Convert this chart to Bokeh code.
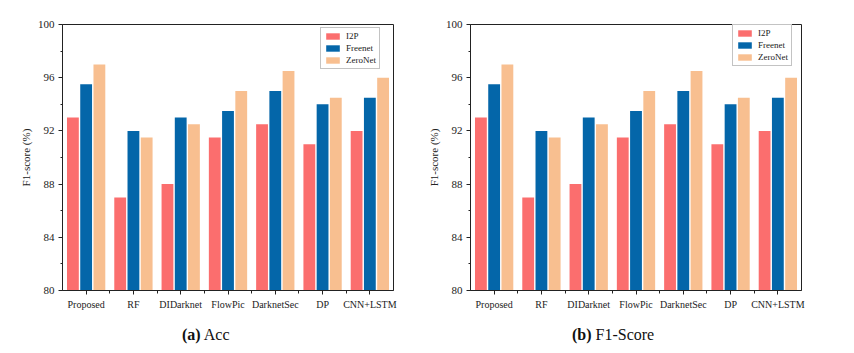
from bokeh.plotting import figure
from bokeh.models import (ColumnDataSource, FixedTicker, Range1d, Legend, LegendItem, Div)
from bokeh.layouts import row, column
from bokeh.transform import dodge
from bokeh.embed import file_html
from bokeh.resources import INLINE

categories = ["Proposed", "RF", "DIDarknet", "FlowPic", "DarknetSec", "DP", "CNN+LSTM"]
series = ["I2P", "Freenet", "ZeroNet"]
acc_i2p = [93, 87, 88, 91.5, 92.5, 91, 92]
acc_freenet = [95.5, 92, 93, 93.5, 95, 94, 94.5]
acc_zeronet = [97, 91.5, 92.5, 95, 96.5, 94.5, 96]
f1_i2p = [93, 87, 88, 91.5, 92.5, 91, 92]
f1_freenet = [95.5, 92, 93, 93.5, 95, 94, 94.5]
f1_zeronet = [97, 91.5, 92.5, 95, 96.5, 94.5, 96]
y_ticks = [80, 84, 88, 92, 96, 100]
y_minor = [82, 86, 90, 94, 98]

colors = ["#FB6E6E", "#0466A9", "#F8BF90"]
FONT = "Liberation Serif"


def make_panel(vals, width, height, bl, br, bt, bb, leg_xy):
    p = figure(width=width, height=height, output_backend="svg", toolbar_location=None,
               x_range=Range1d(0, len(categories)), y_range=Range1d(80, 100),
               min_border_left=bl, min_border_right=br, min_border_top=bt, min_border_bottom=bb)
    centers = [i + 0.5 for i in range(len(categories))]
    src = ColumnDataSource(dict(x=centers, a=vals[0], b=vals[1], c=vals[2]))
    offs = [-0.28, 0.0, 0.28]
    rends = []
    for col, off, color in zip(["a", "b", "c"], offs, colors):
        r = p.vbar(x=dodge("x", off, range=p.x_range), top=col, bottom=80, width=0.25,
                   source=src, fill_color=color, line_color=None)
        rends.append(r)
    p.xgrid.visible = False
    p.ygrid.visible = False
    p.background_fill_color = "white"
    p.border_fill_color = "white"
    p.outline_line_color = "#222222"
    p.outline_line_width = 1

    xa = p.xaxis[0]
    xa.ticker = FixedTicker(ticks=centers, minor_ticks=list(range(1, len(categories))))
    xa.major_label_overrides = {c: n for c, n in zip(centers, categories)}
    ya = p.yaxis[0]
    ya.ticker = FixedTicker(ticks=y_ticks, minor_ticks=y_minor)
    ya.axis_label = "F1-score (%)"
    for ax in (xa, ya):
        ax.axis_line_color = "#222222"
        ax.major_tick_line_color = "#222222"
        ax.minor_tick_line_color = "#222222"
        ax.major_tick_in = 0
        ax.major_tick_out = 4
        ax.minor_tick_in = 0
        ax.minor_tick_out = 3
        ax.major_label_text_font = FONT
        ax.major_label_text_color = "#222222"
        ax.axis_label_text_font = FONT
        ax.axis_label_text_font_style = "normal"
        ax.axis_label_text_color = "#222222"
    xa.major_label_text_font_size = "10px"
    xa.major_label_standoff = 4
    ya.major_label_text_font_size = "11px"
    ya.major_label_standoff = 4
    ya.axis_label_text_font_size = "11px"
    ya.axis_label_standoff = 3
    ya.minor_tick_out = 2

    legend = Legend(items=[LegendItem(label=s, renderers=[r]) for s, r in zip(series, rends)],
                    location=leg_xy, label_text_font=FONT, label_text_font_size="9px",
                    label_height=9, glyph_height=8, glyph_width=17, label_standoff=5,
                    spacing=2, padding=3, margin=0, border_line_color="#888888",
                    border_line_width=1, background_fill_alpha=1.0,
                    label_text_color="#222222")
    p.add_layout(legend, "center")
    return p


def caption(tag, name, width, left):
    html = ('<div style="margin-left:%dpx;white-space:nowrap;font-family:\'Liberation Serif\';'
            'font-size:16px;line-height:26px;color:#111111;">'
            '<b>%s</b> %s</div>') % (left, tag, name)
    return Div(text=html, width=width, height=28, margin=0)


p1 = make_panel([acc_i2p, acc_freenet, acc_zeronet], 424, 322, 62, 31, 23, 32, (258, 221))
p2 = make_panel([f1_i2p, f1_freenet, f1_zeronet], 427, 322, 41, 50, 24, 28, (262, 224))

cap1 = caption("(a)", "Acc", 424, 182)
cap2 = caption("(b)", "F1-Score", 427, 148)

layout = column(row(p1, p2, spacing=0), row(cap1, cap2, spacing=0), spacing=0)
open("out.html", "w").write(file_html(layout, INLINE))
